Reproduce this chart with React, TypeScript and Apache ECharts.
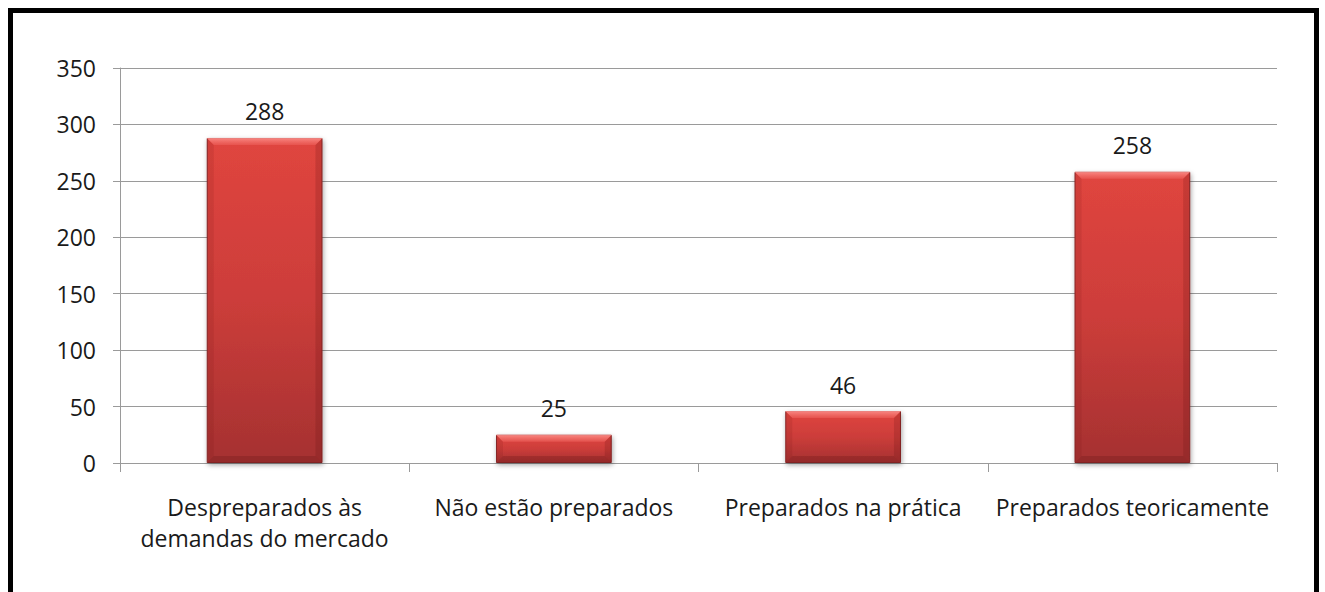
import React, { useEffect, useRef } from "react";
import * as echarts from "echarts";

const categories = [
  "Despreparados às\ndemandas do mercado",
  "Não estão preparados",
  "Preparados na prática",
  "Preparados teoricamente",
];
const values = [288, 25, 46, 258];
const yTicks = { min: 0, max: 350, interval: 50 };

const FONT = "'Open Sans', 'Noto Sans', sans-serif";
const BAR_RATIO = 0.4;
const BEVEL = 7;

function renderBevel(params: any, api: any) {
  const idx = api.value(0);
  const val = api.value(1);
  const top = api.coord([idx, val]);
  const base = api.coord([idx, 0]);
  const band = api.size([1, 0])[0];
  const w = band * BAR_RATIO;
  const x0 = top[0] - w / 2;
  const x1 = top[0] + w / 2;
  const y0 = top[1];
  const y1 = base[1];
  const b = Math.min(BEVEL, (y1 - y0) / 3);
  return {
    type: "group",
    children: [
      {
        type: "polygon",
        shape: {
          points: [
            [x0, y0],
            [x1, y0],
            [x1 - b, y0 + b],
            [x0 + b, y0 + b],
          ],
        },
        style: {
          fill: new echarts.graphic.LinearGradient(0, 0, 0, 1, [
            { offset: 0, color: "rgba(255,150,145,0.85)" },
            { offset: 1, color: "rgba(240,100,95,0.5)" },
          ]),
        },
      },
      {
        type: "polygon",
        shape: {
          points: [
            [x0, y0],
            [x0 + b, y0 + b],
            [x0 + b, y1 - b],
            [x0, y1],
          ],
        },
        style: { fill: "rgba(110,20,20,0.12)" },
      },
      {
        type: "polygon",
        shape: {
          points: [
            [x1, y0],
            [x1 - b, y0 + b],
            [x1 - b, y1 - b],
            [x1, y1],
          ],
        },
        style: { fill: "rgba(90,10,10,0.18)" },
      },
      {
        type: "polygon",
        shape: {
          points: [
            [x0, y1],
            [x0 + b, y1 - b],
            [x1 - b, y1 - b],
            [x1, y1],
          ],
        },
        style: { fill: "rgba(80,10,10,0.2)" },
      },
    ],
  };
}

export default function App() {
  const ref = useRef<HTMLDivElement>(null);
  useEffect(() => {
    if (!ref.current) return;
    const chart = echarts.init(ref.current, null, { renderer: "svg" });
    chart.setOption({
      animation: false,
      backgroundColor: "#ffffff",
      textStyle: { fontFamily: FONT },
      grid: { left: 120, right: 48, top: 68, bottom: 129, containLabel: false },
      graphic: [
        {
          type: "rect",
          shape: { x: 10.5, y: 10.5, width: 1306, height: 640 },
          style: { fill: "none", stroke: "#000000", lineWidth: 5 },
          silent: true,
          z: 100,
        },
      ],
      xAxis: {
        type: "category",
        data: categories,
        boundaryGap: true,
        axisLine: { show: true, lineStyle: { color: "#9a9a9a", width: 1 } },
        axisTick: { show: true, length: 9, lineStyle: { color: "#9a9a9a" } },
        axisLabel: {
          color: "#1a1a1a",
          fontSize: 23,
          fontFamily: FONT,
          lineHeight: 31,
          margin: 28,
          interval: 0,
        },
        splitLine: { show: false },
      },
      yAxis: {
        type: "value",
        min: yTicks.min,
        max: yTicks.max,
        interval: yTicks.interval,
        axisLine: { show: true, lineStyle: { color: "#9a9a9a", width: 1 } },
        axisTick: { show: true, length: 7, lineStyle: { color: "#9a9a9a" } },
        axisLabel: {
          color: "#1a1a1a",
          fontSize: 23,
          fontFamily: FONT,
          margin: 24,
        },
        splitLine: { show: true, lineStyle: { color: "#9a9a9a", width: 1 } },
      },
      series: [
        {
          type: "bar",
          data: values,
          barWidth: BAR_RATIO * 100 + "%",
          itemStyle: {
            color: new echarts.graphic.LinearGradient(0, 0, 0, 1, [
              { offset: 0, color: "#e0453f" },
              { offset: 0.5, color: "#cc3d3a" },
              { offset: 1, color: "#a53131" },
            ]),
            borderColor: "#8c2a2a",
            borderWidth: 1,
            shadowColor: "rgba(0,0,0,0.35)",
            shadowBlur: 5,
            shadowOffsetX: 1,
            shadowOffsetY: 2,
          },
          label: {
            show: true,
            position: "top",
            distance: 15,
            color: "#1a1a1a",
            fontSize: 23,
            fontFamily: FONT,
          },
        },
        {
          type: "custom",
          data: values.map((v, i) => [i, v]),
          renderItem: renderBevel,
          silent: true,
          z: 3,
        },
      ],
    });
    return () => chart.dispose();
  }, []);
  return (
    <div
      ref={ref}
      style={{ position: "fixed", left: 0, top: 0, width: 1325, height: 592 }}
    />
  );
}
